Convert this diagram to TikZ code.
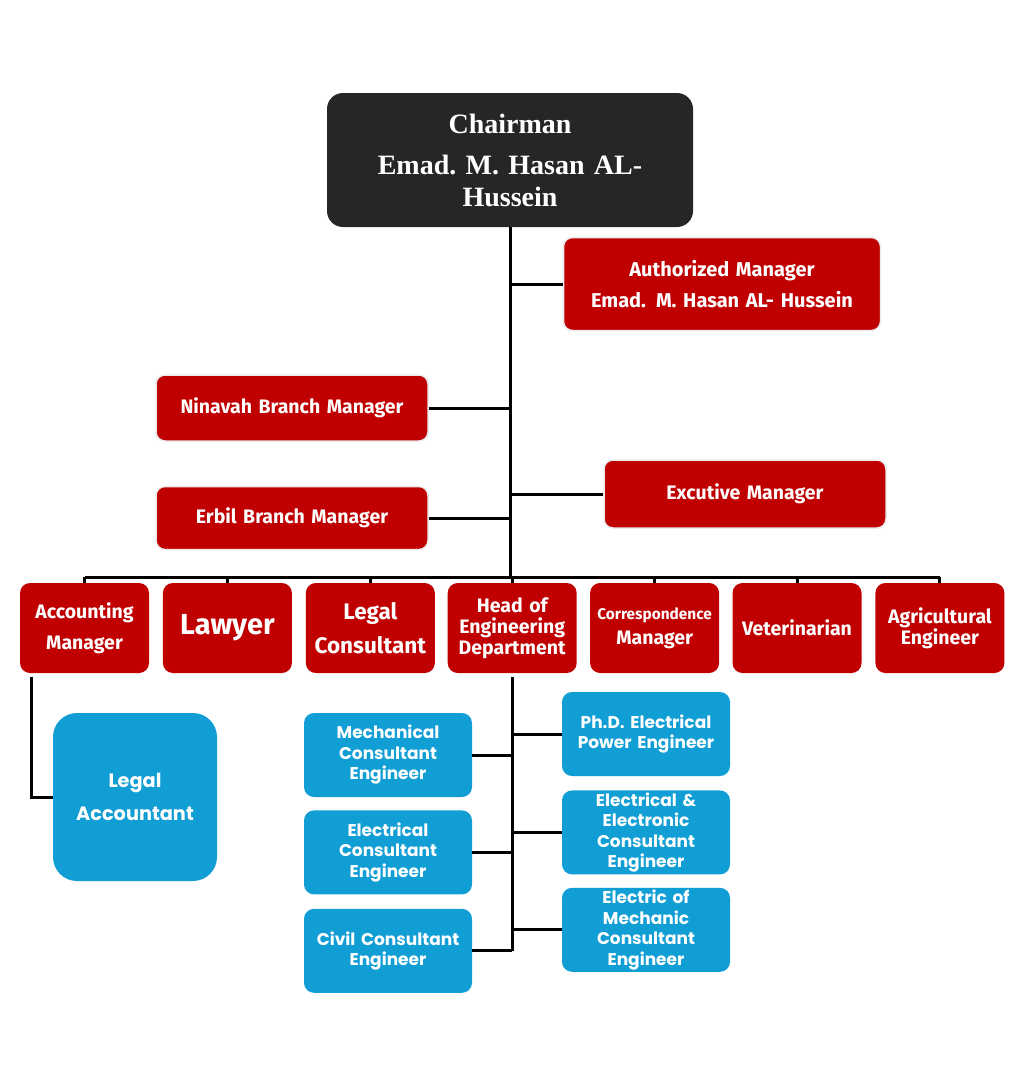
\documentclass[tikz,border=0pt]{standalone}
\usepackage{fontspec}
\setmainfont{Liberation Serif}
\newfontfamily\redfont{Fira Sans}
\newfontfamily\bluefont{Poppins}
\usepackage{tikz}
\usetikzlibrary{positioning}
\definecolor{chairgray}{RGB}{38,38,38}
\definecolor{orgred}{RGB}{192,0,0}
\definecolor{orgblue}{RGB}{16,158,213}
\tikzstyle{chair} = [rectangle, rounded corners=16pt, minimum width=366pt, minimum height=134pt, text width=330pt, align=center, fill=chairgray, text=white, font=\bfseries\fontsize{28}{32}\selectfont]
\tikzstyle{manager} = [rectangle, rounded corners=9pt, minimum width=272pt, minimum height=66pt, text width=260pt, align=center, fill=orgred, draw=black!8, line width=1.5pt, text=white, font=\redfont\bfseries\fontsize{19.5}{31}\selectfont]
\tikzstyle{rowbox} = [rectangle, rounded corners=10pt, minimum width=129pt, minimum height=90pt, text width=120pt, align=center, fill=orgred, text=white, font=\redfont\bfseries\fontsize{19.5}{21}\selectfont]
\tikzstyle{engbox} = [rectangle, rounded corners=10pt, minimum width=168pt, minimum height=84pt, text width=158pt, inner ysep=0pt, align=center, fill=orgblue, text=white, font=\bluefont\bfseries\fontsize{17}{20.5}\selectfont]
\tikzstyle{line} = [line width=3pt, black]

\begin{document}
\begin{tikzpicture}[x=1pt, y=-1pt, node distance=14pt]
	\useasboundingbox (0,0) rectangle (1024,1085);
	\node(chairman) [chair] at (510,160) {Chairman\\[9pt]Emad.\ M.\ Hasan AL-\\Hussein};
	\node(authorized) [manager, minimum width=317pt, minimum height=93pt, text width=305pt, font=\redfont\bfseries\fontsize{20}{31}\selectfont] at (722,284) {Authorized Manager\\Emad. M. Hasan AL- Hussein};
	\node(ninavah) [manager] at (292,408) {Ninavah Branch Manager};
	\node(excutive) [manager, minimum width=282pt, minimum height=68pt] at (745,494) {Excutive Manager};
	\node(erbil) [manager, minimum height=63pt] at (292,518) {Erbil Branch Manager};
	\coordinate(trunk) at (510,577);

	\node(accounting) [rowbox, font=\redfont\bfseries\fontsize{19.5}{31}\selectfont] at (84.5,628) {Accounting\\Manager};
	\node(lawyer) [rowbox, right=13.5pt of accounting, font=\redfont\bfseries\fontsize{29}{32}\selectfont] {Lawyer};
	\node(legalcons) [rowbox, right=13.5pt of lawyer, font=\redfont\bfseries\fontsize{22.5}{34}\selectfont] {Legal\\Consultant};
	\node(headeng) [rowbox, right=12.5pt of legalcons] {Head of\\Engineering\\Department};
	\node(correspondence) [rowbox, right=13pt of headeng, font=\redfont\bfseries\fontsize{19.5}{25}\selectfont] {{\fontsize{15.4}{17}\selectfont Correspondence}\\Manager};
	\node(veterinarian) [rowbox, right=13pt of correspondence] {Veterinarian};
	\node(agricultural) [rowbox, right=13.5pt of veterinarian] {Agricultural\\Engineer};

	\node(legalacc) [engbox, rounded corners=24pt, minimum width=164pt, minimum height=168pt, text width=150pt, font=\bluefont\bfseries\fontsize{19.3}{33}\selectfont] at (135,797) {Legal\\Accountant};

	\node(mechanical) [engbox] at (388,755) {Mechanical\\Consultant\\Engineer};
	\node(electrical) [engbox, below=13pt of mechanical] {Electrical\\Consultant\\Engineer};
	\node(civil) [engbox, below=14pt of electrical] {Civil Consultant\\Engineer};
	\node(phd) [engbox] at (646,734) {Ph.D. Electrical\\Power Engineer};
	\node(electronic) [engbox, below=14pt of phd] {Electrical \&\\Electronic\\Consultant\\Engineer};
	\node(electricmech) [engbox, below=13pt of electronic] {Electric of\\Mechanic\\Consultant\\Engineer};

	\draw[line] (chairman.south) -- (trunk);
	\draw[line] (authorized.west) -- (authorized.west -| trunk);
	\draw[line] (ninavah.east) -- (ninavah.east -| trunk);
	\draw[line] (excutive.west) -- (excutive.west -| trunk);
	\draw[line] (erbil.east) -- (erbil.east -| trunk);
	\draw[line] (accounting.north |- trunk) -- (agricultural.north |- trunk);
	\draw[line] (accounting.north |- trunk) -- (accounting.north);
	\draw[line] (lawyer.north |- trunk) -- (lawyer.north);
	\draw[line] (legalcons.north |- trunk) -- (legalcons.north);
	\draw[line] (headeng.north |- trunk) -- (headeng.north);
	\draw[line] (correspondence.north |- trunk) -- (correspondence.north);
	\draw[line] (veterinarian.north |- trunk) -- (veterinarian.north);
	\draw[line] (agricultural.north |- trunk) -- (agricultural.north);
	\draw[line] ([xshift=12pt,yshift=-4pt]accounting.south west) |- (legalacc.west);
	\draw[line] ([yshift=-4pt]headeng.south) -- (headeng.south |- civil.east);
	\draw[line] (mechanical.east) -- (mechanical.east -| headeng.south);
	\draw[line] (electrical.east) -- (electrical.east -| headeng.south);
	\draw[line] (civil.east) -- (civil.east -| headeng.south);
	\draw[line] (phd.west) -- (phd.west -| headeng.south);
	\draw[line] (electronic.west) -- (electronic.west -| headeng.south);
	\draw[line] (electricmech.west) -- (electricmech.west -| headeng.south);
\end{tikzpicture}
\end{document}
